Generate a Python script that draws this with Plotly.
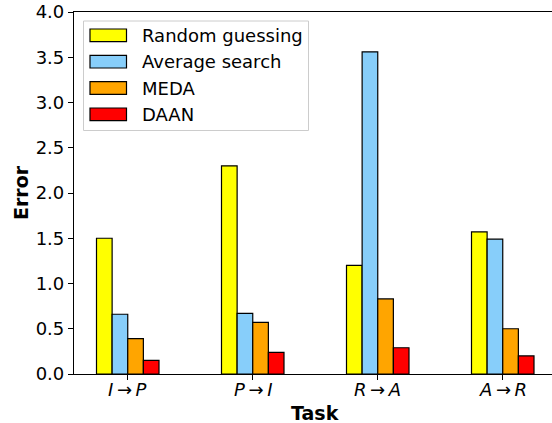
import plotly.graph_objects as go

# ---- data ----
tasks = ["<i>I</i>\u2009→\u2009<i>P</i>", "<i>P</i>\u2009→\u2009<i>I</i>",
         "<i>R</i>\u2009→\u2009<i>A</i>", "<i>A</i>\u2009→\u2009<i>R</i>"]
series_names = ["Random guessing", "Average search", "MEDA", "DAAN"]
random_guessing = [1.50, 2.30, 1.20, 1.57]
average_search = [0.66, 0.67, 3.56, 1.49]
meda = [0.39, 0.57, 0.83, 0.50]
daan = [0.15, 0.24, 0.29, 0.20]
y_ticks = [0.0, 0.5, 1.0, 1.5, 2.0, 2.5, 3.0, 3.5, 4.0]

colors = ["#FFFF00", "#87CEFA", "#FFA500", "#FF0000"]
values = [random_guessing, average_search, meda, daan]

W, H = 552, 423
L, R, T, B = 74, 0, 12, 49
FONT = "DejaVu Sans"

fig = go.Figure()
for name, vals, c in zip(series_names, values, colors):
    fig.add_trace(go.Bar(
        x=list(range(len(tasks))), y=vals, name=name,
        marker=dict(color=c, line=dict(color="black", width=1.2)),
        showlegend=False, hoverinfo="skip",
    ))

# pixel -> paper helpers for the hand-drawn legend / titles
pw = W - L - R
ph = H - T - B
def px(x):
    return (x - L) / pw
def py(y):
    return (H - B - y) / ph

shapes = []
annotations = []
# legend frame
shapes.append(dict(type="rect", xref="paper", yref="paper",
                   x0=px(83.5), x1=px(308.5), y0=py(130.5), y1=py(21),
                   line=dict(color="#cccccc", width=1), fillcolor="rgba(255,255,255,0.8)",
                   layer="above"))
row_y = [35.3, 61.7, 88.0, 114.3]
for name, c, ry in zip(series_names, colors, row_y):
    shapes.append(dict(type="rect", xref="paper", yref="paper",
                       x0=px(90), x1=px(126.5), y0=py(ry + 6.3), y1=py(ry - 6.3),
                       line=dict(color="black", width=1.2), fillcolor=c, layer="above"))
    annotations.append(dict(text=name, xref="paper", yref="paper",
                            x=px(140), y=py(ry), xanchor="left", yanchor="middle",
                            showarrow=False, font=dict(family=FONT, size=18, color="black")))

# x tick labels placed on the category scale
for i, t in enumerate(tasks):
    annotations.append(dict(text=t, xref="x", yref="paper",
                            x=i, y=py(389.5), xanchor="center", yanchor="middle",
                            showarrow=False, font=dict(family=FONT, size=18, color="black")))

# axis titles
annotations.append(dict(text="<b>Task</b>", xref="paper", yref="paper",
                        x=px(315), y=py(412.5), xanchor="center", yanchor="middle",
                        showarrow=False, font=dict(family=FONT, size=19, color="black")))
annotations.append(dict(text="<b>Error</b>", xref="paper", yref="paper",
                        x=px(21), y=py(193), xanchor="center", yanchor="middle",
                        textangle=-90,
                        showarrow=False, font=dict(family=FONT, size=19, color="black")))

fig.update_layout(
    width=W, height=H,
    margin=dict(l=L, r=R, t=T, b=B, autoexpand=False),
    paper_bgcolor="white", plot_bgcolor="white",
    barmode="group", bargap=0.5, bargroupgap=0,
    font=dict(family=FONT, size=18, color="black"),
    shapes=shapes, annotations=annotations,
    xaxis=dict(
        tickmode="array", tickvals=list(range(len(tasks))), showticklabels=False,
        range=[-0.43, 3.394], automargin=False,
        showline=True, linecolor="black", linewidth=1.2, mirror=True,
        ticks="outside", ticklen=5, tickwidth=1, tickcolor="black",
        showgrid=False, zeroline=False,
    ),
    yaxis=dict(
        range=[0, 4.0], tickmode="array", tickvals=y_ticks, automargin=False,
        ticktext=[f"{v:.1f}" for v in y_ticks],
        showline=True, linecolor="black", linewidth=1.2, mirror=False,
        ticks="outside", ticklen=5, tickwidth=1, tickcolor="black",
        showgrid=False, zeroline=False,
        tickfont=dict(family=FONT, size=18),
    ),
)

fig.write_html("out.html", config={"displayModeBar": False},
               post_script="document.body.style.margin='0';")
